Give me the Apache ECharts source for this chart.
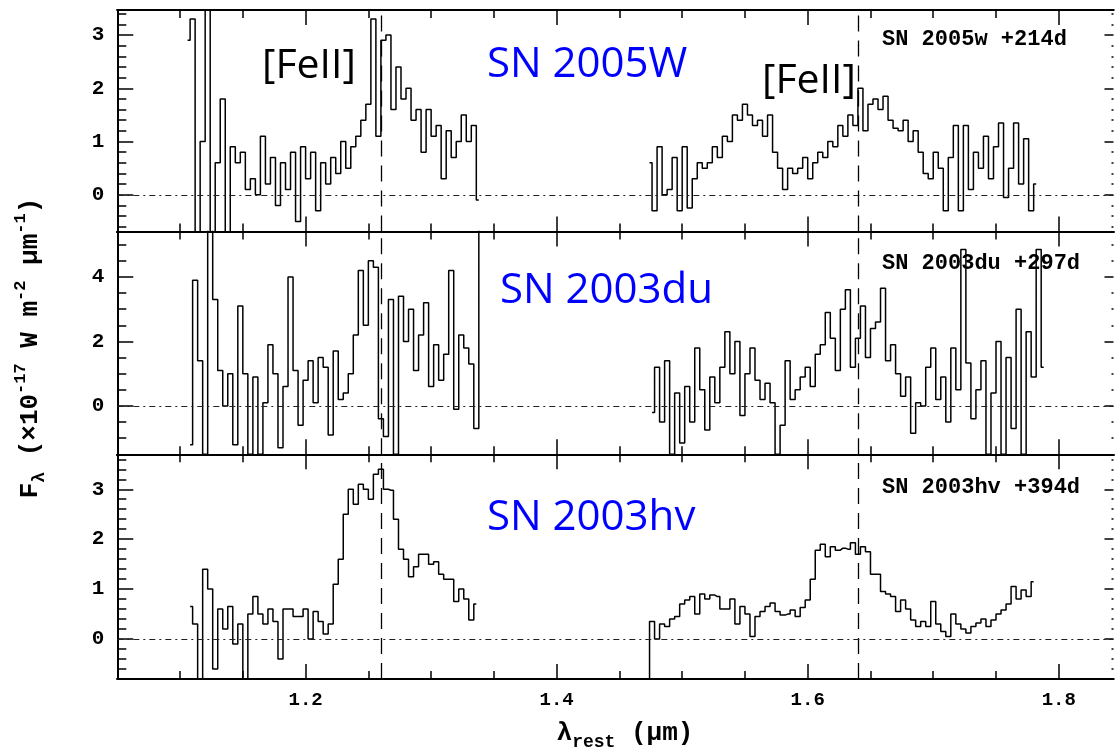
<!DOCTYPE html>
<html>
<head>
<meta charset="utf-8">
<script src="https://cdn.jsdelivr.net/npm/echarts@6/dist/echarts.min.js"></script>
<style>
  html, body { margin: 0; padding: 0; background: #fff; }
  #chart { width: 1115px; height: 754px; }
</style>
</head>
<body>
<div id="chart"></div>
<script>
// bin width of the spectra (micron) and the first wavelength of every segment
const binStep = 0.004;
const start2005wBlue = 1.106, start2005wRed = 1.474;
const start2003duBlue = 1.108, start2003duRed = 1.476;
const start2003hvBlue = 1.108, start2003hvRed = 1.472;

// F_lambda (1e-17 W m^-2 um^-1)
const flux2005wBlue = [2.9, 3.3, -0.8, 1.0, 3.6, -0.8, 0.6, 1.8, -0.7, 0.9, 0.6, 0.8, 0.1, 0.3, 0.0, 1.1, 0.2, 0.7, -0.2, 0.6,
  0.1, 0.8, -0.5, 0.9, 0.3, 0.8, -0.3, 0.6, 0.2, 0.7, 0.4, 1.0, 0.5, 0.9, 1.1, 1.4, 1.7, 3.3, 1.1, 2.9,
  3.0, 1.6, 2.4, 1.8, 2.0, 1.4, 1.6, 0.8, 1.6, 1.1, 1.3, 0.3, 1.2, 0.7, 1.0, 1.5, 1.0, 1.3, -0.1];
const flux2005wRed = [0.6, -0.3, 0.9, 0.0, 0.1, 0.7, -0.3, 0.9, -0.25, 0.3, 0.6, 0.5, 0.6, 0.9, 0.7, 1.1, 1.0, 1.5, 1.4, 1.7,
  1.5, 1.3, 1.4, 1.1, 1.5, 0.8, 0.5, 0.1, 0.5, 0.4, 0.5, 0.7, 0.3, 0.6, 0.8, 0.7, 1.0, 0.9, 1.3, 1.1,
  1.5, 1.3, 2.0, 1.2, 1.7, 1.8, 1.6, 1.85, 1.4, 1.25, 1.2, 1.4, 1.0, 1.2, 0.8, 0.4, 0.3, 0.8, 0.5, -0.3,
  0.7, 1.3, -0.3, 1.3, 0.1, 0.8, 0.5, 1.1, 0.3, 0.9, 1.35, -0.05, 0.5, 1.35, 0.2, 1.05, -0.3, 0.2];
const flux2003duBlue = [-1.2, 3.9, 1.4, -1.5, 5.6, 3.3, 1.1, 0.0, 1.0, -1.2, 3.1, 1.0, -1.5, 0.9, -1.5, 0.1, 1.9, 1.0, -1.3, 0.6,
  4.0, 1.1, -0.6, 0.8, 1.4, 0.1, 1.5, 1.2, -0.9, 1.7, 0.2, 0.4, 1.0, 2.2, 4.2, 2.5, 4.5, 4.3, -0.4, -0.95,
  3.3, -1.5, 3.4, 2.0, 3.0, 1.1, 2.2, 3.2, 0.6, 1.9, 0.8, 1.6, 4.2, -0.1, 2.2, 1.8, 1.3, -0.7, 5.6];
const flux2003duRed = [-0.2, 1.2, -0.5, 1.4, -1.5, 0.4, -1.15, 0.6, -0.5, 1.8, 0.5, -0.75, 0.9, 0.1, 1.2, 2.3, 1.0, 2.0, -0.3, 1.0,
  1.8, 0.8, 0.2, 0.7, 0.1, -1.5, -0.6, 1.4, 0.2, 0.5, 0.9, 1.2, 0.6, 1.6, 1.9, 2.9, 2.1, 1.1, 3.0, 3.6,
  1.2, 2.1, 3.1, 1.5, 2.4, 2.6, 3.65, 1.4, 1.9, 1.0, 0.3, 0.9, -0.85, 0.1, 0.0, 1.2, 1.8, 0.2, 0.9, -0.5,
  1.8, 0.5, 4.85, 1.33, -0.4, 0.5, 1.4, -1.5, 0.4, 2.0, -1.5, 1.5, -0.7, 3.0, -1.5, 2.3, 0.9, 4.85, 1.2];
const flux2003hvBlue = [0.65, 0.3, -0.8, 1.4, 1.0, -0.6, 0.6, 0.2, 0.65, -0.1, 0.3, -0.8, 0.5, 0.85, 0.5, 0.3, 0.6, 0.35, -0.4, 0.6,
  0.6, 0.45, 0.45, 0.6, 0.0, 0.55, 0.35, 0.1, 0.3, 1.1, 1.6, 2.5, 3.0, 2.7, 3.1, 3.0, 2.8, 3.3, 3.4, 3.0,
  2.98, 2.4, 1.8, 1.6, 1.25, 1.45, 1.7, 1.7, 1.5, 1.55, 1.3, 1.2, 1.2, 0.75, 1.0, 0.8, 0.38, 0.7];
const flux2003hvRed = [-0.9, 0.35, 0.0, 0.3, 0.25, 0.4, 0.45, 0.7, 0.78, 0.85, 0.5, 0.9, 0.8, 0.88, 0.85, 0.6, 0.6, 0.8, 0.3, 0.65,
  0.5, 0.05, 0.45, 0.55, 0.65, 0.72, 0.55, 0.48, 0.5, 0.58, 0.45, 0.63, 0.78, 1.2, 1.78, 1.9, 1.65, 1.85, 1.78, 1.82,
  1.8, 1.93, 1.7, 1.85, 1.75, 1.3, 1.3, 0.95, 0.9, 0.85, 0.55, 0.78, 0.6, 0.38, 0.25, 0.35, 0.25, 0.75, 0.3, 0.15,
  0.05, 0.5, 0.3, 0.2, 0.12, 0.25, 0.32, 0.4, 0.25, 0.38, 0.5, 0.58, 0.7, 1.05, 0.8, 0.98, 0.85, 1.15];

// axes (the right frame of the original sits just past the cropped edge)
const xRange = [1.05, 1.8436];
const xMajor = [1.2, 1.4, 1.6, 1.8];
const xMinor = [1.05, 1.1, 1.15, 1.25, 1.3, 1.35, 1.45, 1.5, 1.55, 1.65, 1.7, 1.75];
const yRange = [[-0.69, 3.47], [-1.5, 5.41], [-0.8, 3.7]];
const yMajor = [[0, 1, 2, 3], [0, 2, 4], [0, 1, 2, 3]];
const yMinor = [
  [-0.6, -0.4, -0.2, 0.2, 0.4, 0.6, 0.8, 1.2, 1.4, 1.6, 1.8, 2.2, 2.4, 2.6, 2.8, 3.2, 3.4],
  [-1.5, -1, -0.5, 0.5, 1, 1.5, 2.5, 3, 3.5, 4.5, 5],
  [-0.8, -0.6, -0.4, -0.2, 0.2, 0.4, 0.6, 0.8, 1.2, 1.4, 1.6, 1.8, 2.2, 2.4, 2.6, 2.8, 3.2, 3.4, 3.6]
];
const feLines = [1.257, 1.644];
const snNames = ['SN 2005W', 'SN 2003du', 'SN 2003hv'];
const snTags = ['SN 2005w +214d', 'SN 2003du +297d', 'SN 2003hv +394d'];

const panels = [
  [[start2005wBlue, flux2005wBlue], [start2005wRed, flux2005wRed]],
  [[start2003duBlue, flux2003duBlue], [start2003duRed, flux2003duRed]],
  [[start2003hvBlue, flux2003hvBlue], [start2003hvRed, flux2003hvRed]]
];

const gridTop = [10, 231.5, 454.3];
const gridHeight = [221.5, 222.8, 224.7];
const mono = '"Liberation Mono", "DejaVu Sans Mono", monospace';

function toPairs(start, flux) {
  return flux.map((f, i) => [+(start + i * binStep).toFixed(4), f]);
}

function xAx(p, pos, ticks, len, labels) {
  return {
    type: 'value', gridIndex: p, position: pos, min: xRange[0], max: xRange[1],
    axisLine: { show: true, onZero: false, lineStyle: { color: '#000', width: 2 } },
    axisTick: { show: true, inside: true, customValues: ticks, length: len, lineStyle: { color: '#000', width: 1.5 } },
    axisLabel: { show: labels, customValues: xMajor, formatter: v => v.toFixed(1), margin: 12,
      color: '#000', fontFamily: mono, fontWeight: 'bold', fontSize: 19 },
    splitLine: { show: false }
  };
}

function yAx(p, pos, ticks, len, labels, line) {
  return {
    type: 'value', gridIndex: p, position: pos, min: yRange[p][0], max: yRange[p][1],
    axisLine: { show: line, onZero: false, lineStyle: { color: '#000', width: 2 } },
    axisTick: { show: true, inside: true, customValues: ticks, length: len, lineStyle: { color: '#000', width: 1.5 } },
    axisLabel: { show: labels, customValues: yMajor[p], margin: 13,
      color: '#000', fontFamily: mono, fontWeight: 'bold', fontSize: 21 },
    splitLine: { show: false }
  };
}

let xAxis = [], yAxis = [], series = [], graphic = [];
for (let p = 0; p < 3; p++) {
  xAxis.push(xAx(p, 'bottom', xMajor, 15, p == 2), xAx(p, 'bottom', xMinor, 8, false),
    xAx(p, 'top', xMajor, 15, false), xAx(p, 'top', xMinor, 8, false));
  // right side: only the tips of the ticks are inside the crop
  yAxis.push(yAx(p, 'left', yMajor[p], 16, true, true), yAx(p, 'left', yMinor[p], 9, false, true),
    yAx(p, 'right', yMajor[p], 9, false, false), yAx(p, 'right', yMinor[p], 2, false, false));
  panels[p].forEach((seg, s) => {
    let ser = {
      type: 'line', step: 'middle', xAxisIndex: p * 4, yAxisIndex: p * 4,
      data: toPairs(seg[0], seg[1]), showSymbol: false, symbol: 'none',
      lineStyle: { color: '#000', width: 1.5 }, silent: true
    };
    if (s == 0) {
      ser.markLine = {
        silent: true, symbol: 'none', label: { show: false }, animation: false,
        data: [
          { xAxis: feLines[0], lineStyle: { color: '#000', width: 1.3, type: [16, 9] } },
          { xAxis: feLines[1], lineStyle: { color: '#000', width: 1.3, type: [16, 9] } },
          { yAxis: 0, lineStyle: { color: '#222', width: 1.1, type: [6, 4, 2, 4] } }
        ]
      };
    }
    series.push(ser);
  });
}

// blue names and [FeII] labels
const sansFont = '"Open Sans", "Noto Sans", sans-serif';
graphic.push(
  { type: 'text', x: 487, y: 65, style: { text: snNames[0], fill: '#0000ff', font: '42px ' + sansFont, verticalAlign: 'middle' } },
  { type: 'text', x: 500, y: 291, style: { text: snNames[1], fill: '#0000ff', font: '42px ' + sansFont, verticalAlign: 'middle' } },
  { type: 'text', x: 487, y: 518, style: { text: snNames[2], fill: '#0000ff', font: '42px ' + sansFont, verticalAlign: 'middle' } },
  { type: 'text', x: 262, y: 66, style: { text: '[FeII]', fill: '#000', font: '41px ' + sansFont, verticalAlign: 'middle' } },
  { type: 'text', x: 762, y: 81, style: { text: '[FeII]', fill: '#000', font: '41px ' + sansFont, verticalAlign: 'middle' } }
);
[39, 263, 487].forEach((y, i) => {
  graphic.push({ type: 'text', x: 882, y: y, style: { text: snTags[i], fill: '#000',
    font: 'bold 22px ' + mono, verticalAlign: 'middle' } });
});

// axis titles
const titleRich = {
  n: { fontFamily: mono, fontWeight: 'bold', fontSize: 26, lineHeight: 36, verticalAlign: 'middle', fill: '#000' },
  b: { fontFamily: mono, fontWeight: 'bold', fontSize: 18, lineHeight: 36, verticalAlign: 'bottom', fill: '#000' },
  p: { fontFamily: mono, fontWeight: 'bold', fontSize: 17, lineHeight: 36, verticalAlign: 'top', fill: '#000' }
};
graphic.push(
  { type: 'text', x: 30, y: 348, rotation: Math.PI / 2,
    style: { text: '{n|F}{b|λ}{n| (×10}{p|-17}{n| W m}{p|-2}{n| μm}{p|-1}{n|)}', rich: titleRich,
      align: 'center', verticalAlign: 'middle' } },
  { type: 'text', x: 625, y: 733,
    style: { text: '{n|λ}{b|rest}{n| (μm)}', rich: titleRich, align: 'center', verticalAlign: 'middle' } }
);

const chart = echarts.init(document.getElementById('chart'));
chart.setOption({
  animation: false,
  backgroundColor: '#fff',
  grid: gridTop.map((t, i) => ({ left: 117.3, width: 996.2, top: t, height: gridHeight[i], outerBoundsMode: 'none' })),
  xAxis: xAxis,
  yAxis: yAxis,
  series: series,
  graphic: graphic
});
</script>
</body>
</html>
